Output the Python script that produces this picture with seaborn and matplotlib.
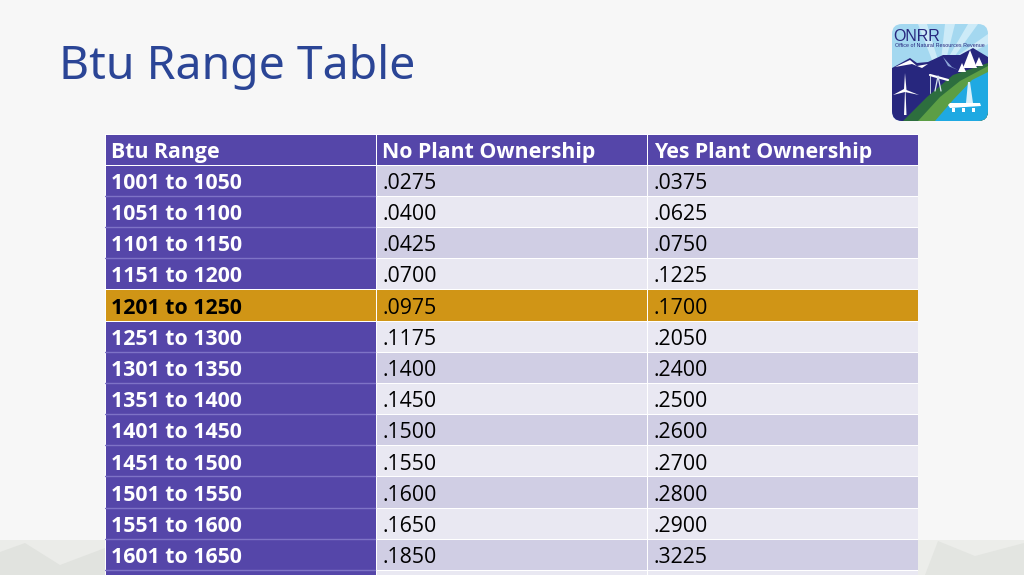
import numpy as np
import matplotlib
matplotlib.use("Agg")
import matplotlib.pyplot as plt
from matplotlib.colors import ListedColormap
from matplotlib.patches import FancyBboxPatch, Polygon, Rectangle
import seaborn as sns

title = "Btu Range Table"
columns = ["Btu Range", "No Plant Ownership", "Yes Plant Ownership"]
ranges = ["1001 to 1050", "1051 to 1100", "1101 to 1150", "1151 to 1200", "1201 to 1250",
          "1251 to 1300", "1301 to 1350", "1351 to 1400", "1401 to 1450", "1451 to 1500",
          "1501 to 1550", "1551 to 1600", "1601 to 1650", ""]
no_plant = [".0275", ".0400", ".0425", ".0700", ".0975", ".1175", ".1400", ".1450",
            ".1500", ".1550", ".1600", ".1650", ".1850", ""]
yes_plant = [".0375", ".0625", ".0750", ".1225", ".1700", ".2050", ".2400", ".2500",
             ".2600", ".2700", ".2800", ".2900", ".3225", ""]
highlight_row = "1201 to 1250"

W, H = 1024, 575
BG = "#F7F7F7"
PURPLE, ODD, EVEN, GOLD = "#5546A9", "#D0CEE4", "#E9E8F2", "#D09516"

sns.set_theme(style="white")
plt.rcParams["font.family"] = ["Open Sans", "Noto Sans", "DejaVu Sans"]

fig = plt.figure(figsize=(W / 100, H / 100), dpi=100, facecolor=BG)

page = fig.add_axes([0, 0, 1, 1], zorder=0)
page.set_xlim(0, W); page.set_ylim(H, 0); page.axis("off")
for x0, x1, c in [(0, 105, "#EBECE9"), (918, 1024, "#ECEDEA")]:
    page.add_patch(Rectangle((x0, 540), x1 - x0, 35, color=c, lw=0))
for pts, c in [([(0, 575), (0, 552), (25, 543), (60, 565), (105, 548), (105, 575)], "#E1E3DF"),
               ([(925, 575), (938, 541), (975, 556), (1024, 543), (1024, 575)], "#E3E5E1")]:
    page.add_patch(Polygon(pts, color=c, lw=0))
page.text(59, 67.5, title, color="#2B4596", fontsize=33.4, va="center", ha="left",
          family=["Noto Sans", "DejaVu Sans"])

rows = [columns] + [[r, a, b] for r, a, b in zip(ranges, no_plant, yes_plant)]
labels = np.array(rows, dtype=object)
codes = np.zeros((len(rows), 3))
for i in range(1, len(rows)):
    codes[i, 1:] = 1 if i % 2 else 2
    if rows[i][0] == highlight_row:
        codes[i, :] = 3

top, left, right, row_h = 133.6, 104.6, 918.4, 31.17
tab = fig.add_axes([left / W, 0, (right - left) / W, (H - top) / H], zorder=2)
sns.heatmap(codes, ax=tab, annot=labels, fmt="", cbar=False, vmin=0, vmax=3,
            cmap=ListedColormap([PURPLE, ODD, EVEN, GOLD]),
            linewidths=0.7, linecolor="#FFFFFF",
            xticklabels=False, yticklabels=False,
            annot_kws={"fontsize": 15.3})
tab.set_ylim((H - top) / row_h, 0)
for t in tab.texts:
    x, y = t.get_position()
    col = int(x); row = int(y)
    t.set_ha("left")
    t.set_x(col + 6.5 / 271)
    t.set_y(row + 0.60)
    t.set_va("center")
    t.set_clip_on(True)
    bold = row == 0 or col == 0
    t.set_fontweight("bold" if bold else "normal")
    hl = rows[row][0] == highlight_row
    t.set_color("white" if bold and not hl else "black")
for i in range(2, 15):
    if rows[i][0] != highlight_row and rows[i - 1][0] != highlight_row:
        tab.plot([0, 0.997], [i, i], color="#7E73C6", lw=1.0)

logo = fig.add_axes([888 / W, 1 - 125 / H, 104 / W, 104 / H], zorder=3)
logo.set_xlim(888, 992); logo.set_ylim(125, 21); logo.axis("off")
clip = FancyBboxPatch((892, 24), 96, 97, boxstyle="round,pad=0,rounding_size=10",
                      fc="#A4D8F0", ec="none")
logo.add_patch(clip)
shapes = [
    ([(945, 24), (955, 24), (946, 60), (941, 60)], "#CDEBF8"),
    ([(968, 24), (978, 24), (952, 60), (947, 60)], "#CDEBF8"),
    ([(988, 34), (988, 44), (958, 60), (954, 58)], "#CDEBF8"),
    ([(918, 24), (927, 24), (938, 60), (932, 60)], "#CDEBF8"),
    ([(892, 68), (910, 58), (917, 63), (928, 62), (943, 55), (960, 55), (973, 48), (988, 57),
      (988, 121), (892, 121)], "#27277E"),
    ([(895, 67), (910, 60), (917, 66), (928, 64), (922, 68), (912, 64)], "white"),
    ([(943, 57), (952, 67), (958, 70), (948, 66)], "#8FA8D8"),
    ([(988, 63), (953, 75), (927, 97), (903, 121), (988, 121)], "#2D6E3E"),
    ([(988, 66), (960, 81), (940, 97), (918, 121), (988, 121)], "#5C9E45"),
    ([(988, 72), (972, 80), (953, 100), (935, 121), (988, 121)], "#1FA9E2"),
    ([(904, 115), (906.5, 115), (905.5, 91), (905, 91)], "white"),
    ([(905, 73), (906.5, 90), (919, 95), (905, 92), (893, 95), (904, 89)], "white"),
    ([(970, 50), (977, 68), (963, 68)], "white"),
    ([(979, 57), (983, 66), (975, 66)], "white"),
    ([(962, 63), (966, 72), (958, 72)], "white"),
    ([(948, 105), (950, 103), (980, 103), (981, 106), (950, 108)], "white"),
    ([(966, 103), (968, 82), (970, 82), (973, 103)], "#D8F0FA"),
    ([(952, 108), (955, 108), (955, 112), (952, 112)], "white"),
    ([(962, 108), (965, 108), (965, 112), (962, 112)], "white"),
    ([(972, 108), (975, 108), (975, 112), (972, 112)], "white"),
]
for pts, c in shapes:
    p = Polygon(pts, color=c, lw=0)
    logo.add_patch(p)
    p.set_clip_path(clip)
logo.plot([930, 948], [75, 80], color="white", lw=1.6)
logo.plot([935, 938, 941], [91, 76, 91], color="#D9E6EE", lw=0.9)
logo.plot([930, 930], [75, 93], color="#D9E6EE", lw=0.6)
logo.text(893.5, 36.5, "ONRR", color="#27277E", fontsize=11.5, va="center", ha="left",
          family=["Liberation Sans", "DejaVu Sans"])
logo.text(895, 45.5, "Office of Natural Resources Revenue", color="#27277E", fontsize=3.9,
          va="center", ha="left", family=["Liberation Sans", "DejaVu Sans"])

fig.savefig("out.png", dpi=100, facecolor=BG)
